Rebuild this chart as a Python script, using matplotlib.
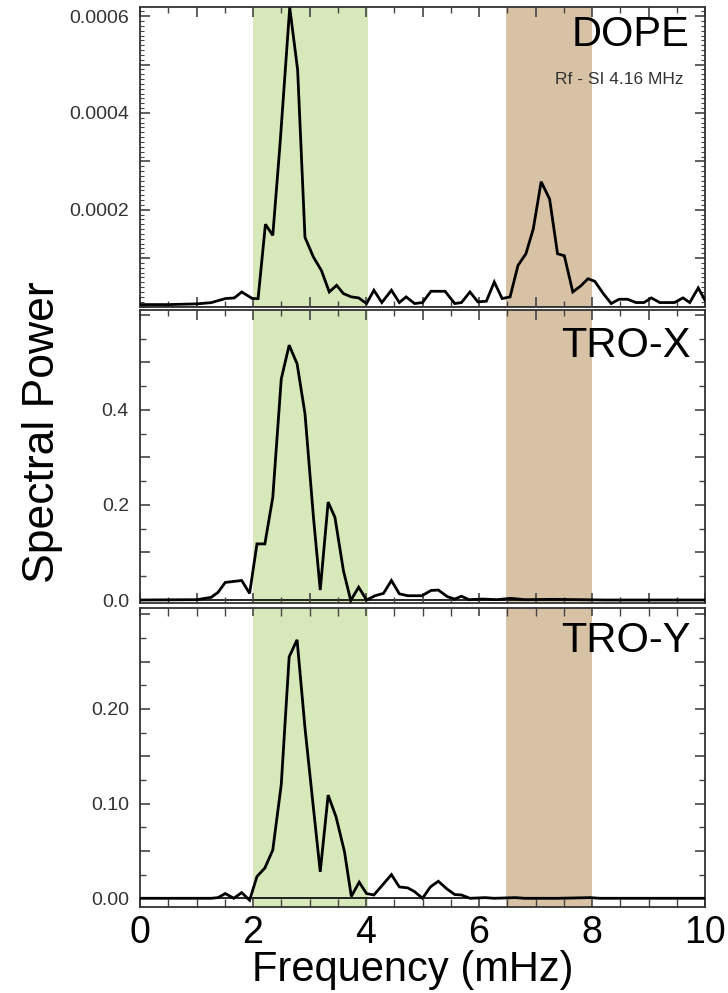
import matplotlib
matplotlib.use("Agg")
import matplotlib.pyplot as plt
from matplotlib.ticker import MultipleLocator

plt.rcParams['font.family'] = ['Liberation Sans', 'DejaVu Sans']

# ---- data ----
dope_f = [0.0, 0.51, 1.01, 1.26, 1.51, 1.67, 1.80, 1.99, 2.09, 2.22, 2.35, 2.48, 2.65, 2.79,
          2.92, 3.07, 3.21, 3.35, 3.48, 3.60, 3.74, 3.87, 4.01, 4.14, 4.28, 4.45, 4.59, 4.71,
          4.86, 5.00, 5.15, 5.40, 5.57, 5.69, 5.84, 5.98, 6.13, 6.27, 6.41, 6.55, 6.69, 6.83,
          6.96, 7.10, 7.25, 7.39, 7.51, 7.66, 7.80, 7.93, 8.05, 8.20, 8.34, 8.48, 8.63, 8.78,
          8.92, 9.05, 9.20, 9.46, 9.61, 9.73, 9.88, 10.0]
dope_p = [4e-6, 4e-6, 5.5e-6, 8e-6, 1.64e-5, 1.78e-5, 3.0e-5, 1.64e-5, 1.64e-5, 1.70e-4,
          1.47e-4, 3.38e-4, 6.18e-4, 4.89e-4, 1.43e-4, 1.02e-4, 7.47e-5, 3.01e-5, 4.38e-5,
          2.67e-5, 1.99e-5, 1.78e-5, 6.2e-6, 3.36e-5, 8.2e-6, 3.36e-5, 8.2e-6, 1.99e-5, 6.2e-6,
          8.2e-6, 3.15e-5, 3.15e-5, 6.2e-6, 8.2e-6, 3.01e-5, 9.6e-6, 1.1e-5, 5.07e-5, 1.64e-5,
          1.99e-5, 8.49e-5, 1.09e-4, 1.60e-4, 2.58e-4, 2.22e-4, 1.09e-4, 1.05e-4, 3.01e-5,
          4.25e-5, 5.75e-5, 5.2e-5, 2.67e-5, 6.2e-6, 1.5e-5, 1.5e-5, 8.2e-6, 8.2e-6, 1.78e-5,
          8.2e-6, 8.2e-6, 1.78e-5, 8.2e-6, 3.84e-5, 1.3e-5]

trox_f = [0.0, 1.01, 1.26, 1.38, 1.51, 1.80, 1.94, 2.07, 2.21, 2.35, 2.50, 2.64, 2.78, 2.92,
          3.07, 3.19, 3.33, 3.45, 3.60, 3.73, 3.87, 4.01, 4.16, 4.31, 4.45, 4.59, 4.74, 4.99,
          5.15, 5.28, 5.44, 5.57, 5.69, 5.82, 6.06, 6.31, 6.56, 6.81, 7.31, 7.80, 8.22, 10.0]
trox_p = [0.0, 0.0007, 0.0056, 0.016, 0.037, 0.041, 0.014, 0.118, 0.118, 0.216, 0.465, 0.536,
          0.497, 0.392, 0.174, 0.021, 0.206, 0.174, 0.062, -0.001, 0.027, 0.0, 0.009, 0.014,
          0.041, 0.013, 0.009, 0.009, 0.020, 0.021, 0.007, 0.002, 0.008, 0.0007, 0.002, 0.0007,
          0.0035, 0.0007, 0.0014, 0.0007, 0.0, 0.0]

troy_f = [0.0, 1.26, 1.38, 1.51, 1.66, 1.80, 1.94, 2.07, 2.21, 2.35, 2.50, 2.64, 2.78, 2.92,
          3.07, 3.19, 3.33, 3.47, 3.62, 3.74, 3.88, 4.01, 4.14, 4.45, 4.59, 4.74, 4.86, 5.00,
          5.14, 5.28, 5.43, 5.57, 5.69, 5.84, 6.11, 6.27, 6.64, 6.81, 7.39, 7.97, 8.14, 10.0]
troy_p = [0.0, 0.0, 0.0007, 0.005, 0.0, 0.006, -0.002, 0.023, 0.032, 0.051, 0.120, 0.255,
          0.273, 0.180, 0.095, 0.028, 0.109, 0.086, 0.049, 0.002, 0.017, 0.005, 0.0035, 0.025,
          0.012, 0.011, 0.007, 0.0, 0.012, 0.018, 0.010, 0.004, 0.0035, 0.0, 0.0007, 0.0, 0.0007,
          0.0, 0.0, 0.0007, 0.0, 0.0]

bands = [(2.0, 4.03, '#d7e8ba'), (6.48, 8.0, '#d8c2a5')]
panel_names = ['DOPE', 'TRO-X', 'TRO-Y']
x_ticks = [0, 2, 4, 6, 8, 10]

fig = plt.figure(figsize=(7.28, 9.93), dpi=100)
W, H = 728.0, 993.0

def make_ax(top, bottom):
    return fig.add_axes([140 / W, 1 - bottom / H, 565 / W, (bottom - top) / H])

ax1 = make_ax(7, 307)
ax2 = make_ax(310, 603)
ax3 = make_ax(608, 907)

series = [(dope_f, dope_p), (trox_f, trox_p), (troy_f, troy_p)]
ylims = [(-1e-6, 0.000619), (-0.0063, 0.610), (-0.0092, 0.3066)]
ymaj = [0.0001, 0.1, 0.05]
ymin = [0.00001, 0.05, 0.025]
ylabels = [
    ([0.0002, 0.0004, 0.0006], ['0.0002', '0.0004', '0.0006']),
    ([0.0, 0.2, 0.4], ['0.0', '0.2', '0.4']),
    ([0.0, 0.10, 0.20], ['0.00', '0.10', '0.20']),
]

for i, ax in enumerate([ax1, ax2, ax3]):
    for lo, hi, c in bands:
        ax.axvspan(lo, hi, color=c, lw=0, zorder=0)
    ax.axhline(0, color='black', lw=1.2, zorder=1)
    f, p = series[i]
    ax.plot(f, p, color='black', lw=2.0, zorder=3, solid_joinstyle='miter')
    ax.set_xlim(0, 10)
    ax.set_ylim(*ylims[i])
    lo, hi = ylims[i]
    step = ymaj[i]
    n = int(round(hi / step))
    maj = [k * step for k in range(0, n + 1) if k * step <= hi]
    labpos, labtxt = ylabels[i]
    labs = []
    for v in maj:
        lab = ''
        for lp, lt in zip(labpos, labtxt):
            if abs(lp - v) < step * 1e-3:
                lab = lt
        labs.append(lab)
    ax.set_yticks(maj, labs)
    ax.yaxis.set_minor_locator(MultipleLocator(ymin[i]))
    ax.xaxis.set_major_locator(MultipleLocator(1))
    ax.xaxis.set_minor_locator(MultipleLocator(0.5))
    ax.tick_params(axis='both', which='both', direction='in', top=True, right=True,
                   color='#444444')
    ax.tick_params(axis='both', which='major', length=7, width=1.2)
    ax.tick_params(axis='both', which='minor', length=4, width=1.0)
    ax.tick_params(axis='y', labelsize=14, labelcolor='#333333', pad=8)
    for s in ax.spines.values():
        s.set_color('#333333')
        s.set_linewidth(1.3)
    if i < 2:
        ax.tick_params(axis='x', labelbottom=False)

ax1.tick_params(axis='y', which='minor', length=3, width=0.8)

ax3.set_xticks(x_ticks)
ax3.xaxis.set_minor_locator(MultipleLocator(0.5))
ax3.tick_params(axis='x', which='major', labelsize=27, labelcolor='black', pad=6)
ax3.tick_params(axis='x', which='both', length=6)

ax1.text(0.972, 0.975, panel_names[0], transform=ax1.transAxes, ha='right', va='top',
         fontsize=30, color='black')
ax1.text(0.962, 0.757, 'Rf - SI 4.16 MHz', transform=ax1.transAxes, ha='right',
         va='center', fontsize=12.5, color='#333333')
ax2.text(0.975, 0.945, panel_names[1], transform=ax2.transAxes, ha='right', va='top',
         fontsize=30, color='black')
ax3.text(0.975, 0.955, panel_names[2], transform=ax3.transAxes, ha='right', va='top',
         fontsize=30, color='black')

fig.text(413 / W, 1 - 970 / H, 'Frequency (mHz)', ha='center', va='center', fontsize=30)
fig.text(43 / W, 1 - 432 / H, 'Spectral Power', ha='center', va='center', fontsize=32,
         rotation=90)

fig.savefig('out.png', dpi=100)
